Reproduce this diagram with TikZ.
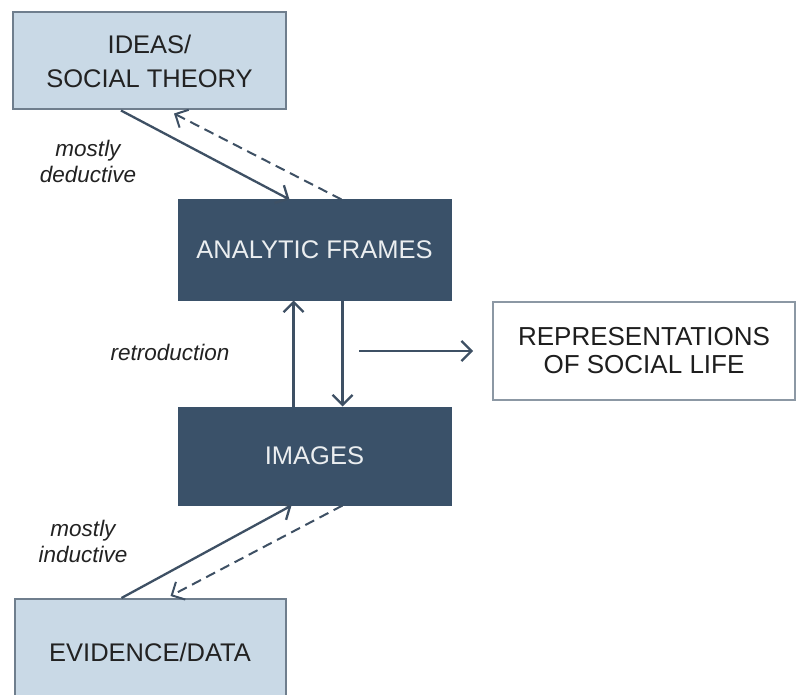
\documentclass[tikz,border=0pt]{standalone}
\usepackage{fontspec}
\setmainfont{Liberation Sans}
\usetikzlibrary{arrows.meta}
\definecolor{lightfill}{HTML}{C9D9E6}
\definecolor{lightedge}{HTML}{6F7E8D}
\definecolor{darkfill}{HTML}{3A5169}
\definecolor{arrowcol}{HTML}{3E5064}
\definecolor{txt}{HTML}{222222}
\definecolor{reptxt}{HTML}{1E1E1E}
\tikzset{
  lightbox/.style={draw=lightedge, fill=lightfill, line width=2pt, text=txt,
    font=\fontsize{25.5}{34}\selectfont, align=center, inner sep=0pt},
  darkbox/.style={draw=darkfill, fill=darkfill, line width=1pt, text=white!90!darkfill,
    font=\fontsize{25.5}{34}\selectfont, align=center, inner sep=0pt},
  repbox/.style={draw=lightedge!80, fill=white, line width=1.8pt, text=reptxt,
    font=\fontsize{26}{28}\selectfont, align=center, inner sep=0pt},
  lbl/.style={text=txt, font=\fontsize{22.5}{26}\selectfont\itshape, align=center},
  conn/.style={draw=arrowcol, line width=2.3pt, -{Straight Barb[length=10pt,width=20pt]}},
  dconn/.style={draw=arrowcol, line width=2pt, dash pattern=on 10pt off 6pt,
    -{Straight Barb[length=10pt,width=20pt]}}
}
\begin{document}
\begin{tikzpicture}[x=1pt,y=-1pt]
\useasboundingbox (0,0) rectangle (798,695);
\fill[white] (0,0) rectangle (798,695);
\clip (0,0) rectangle (798,695);

\node[lightbox, minimum width=273pt, minimum height=97pt] (ideas) at (149.5,61) {IDEAS/\\SOCIAL THEORY};
\node[darkbox, minimum width=273pt, minimum height=100pt] (af) at (314.5,250) {ANALYTIC FRAMES};
\node[darkbox, minimum width=273pt, minimum height=98pt] (img) at (314.5,456) {IMAGES};
\node[repbox, minimum width=302pt, minimum height=98pt] (rep) at (644,351) {REPRESENTATIONS\\OF SOCIAL LIFE};
\node[lightbox, minimum width=271pt, minimum height=110pt] (evid) at (150,654) {};
\node[text=txt, font=\fontsize{25.5}{34}\selectfont] (evidtext) at (150,652) {EVIDENCE/DATA};

\node[lbl] (ded) at (88,161) {mostly\\deductive};
\node[lbl] (ret) at (170,352) {retroduction};
\node[lbl] (ind) at (83,541) {mostly\\inductive};

\coordinate (hs) at (359,351);

\draw[conn] ([xshift=109pt]ideas.south west) -- ([xshift=112pt]af.north west);
\draw[dconn] ([xshift=164pt]af.north west) -- ([xshift=162pt,yshift=-3pt]ideas.south west);
\draw[conn] ([xshift=116pt]img.north west) -- ([xshift=116pt]af.south west);
\draw[conn] ([xshift=165pt]af.south west) -- ([xshift=165pt]img.north west);
\draw[conn] (hs) -- ([xshift=-19pt]rep.west);
\draw[conn] ([xshift=108pt]evid.north west) -- ([xshift=114pt]img.south west);
\draw[dconn] ([xshift=165pt]img.south west) -- ([xshift=157pt,yshift=2pt]evid.north west);
\end{tikzpicture}
\end{document}
